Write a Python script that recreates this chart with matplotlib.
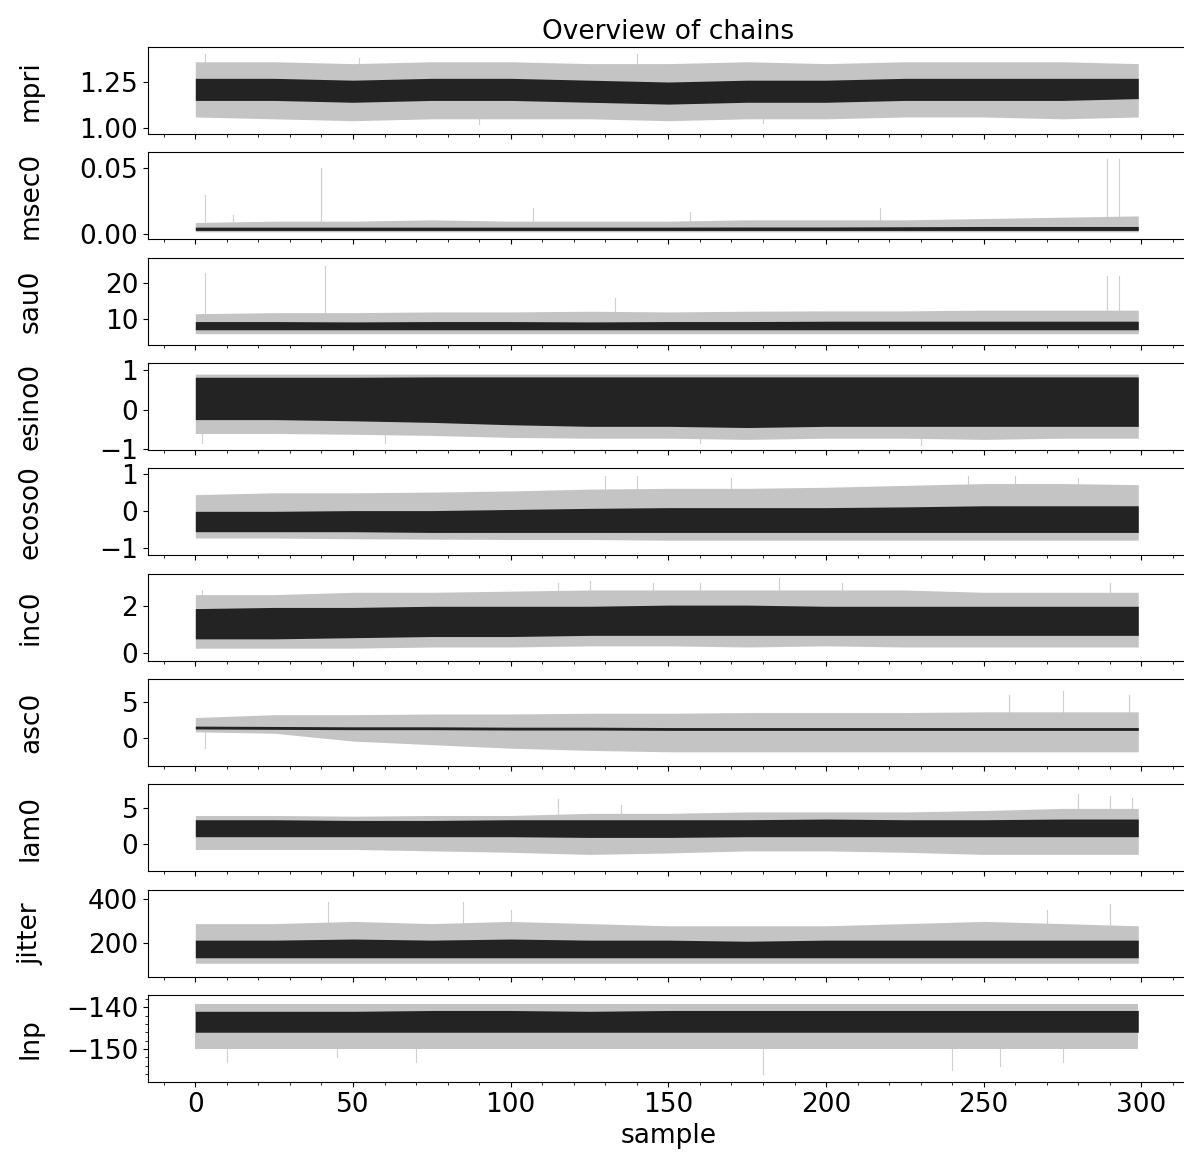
import numpy as np
import matplotlib
matplotlib.use('Agg')
import matplotlib.pyplot as plt
from matplotlib.ticker import MultipleLocator

plt.rcParams["font.family"] = "DejaVu Sans"
plt.rcParams["font.size"] = 19

samples = [0, 25, 50, 75, 100, 125, 150, 175, 200, 225, 250, 275, 299]

names = ['mpri', 'msec0', 'sau0', 'esino0', 'ecoso0', 'inc0', 'asc0', 'lam0', 'jitter', 'lnp']

# dense core of the walkers
mpri_core_lo = [1.15, 1.15, 1.14, 1.15, 1.15, 1.14, 1.13, 1.14, 1.14, 1.15, 1.15, 1.15, 1.16]
mpri_core_hi = [1.27, 1.27, 1.26, 1.27, 1.27, 1.26, 1.25, 1.26, 1.26, 1.27, 1.27, 1.27, 1.27]
msec0_core_lo = [0.003, 0.003, 0.003, 0.003, 0.003, 0.003, 0.003, 0.003, 0.003, 0.003, 0.003, 0.003, 0.003]
msec0_core_hi = [0.0055, 0.0055, 0.0055, 0.0055, 0.0055, 0.0055, 0.0055, 0.0056, 0.0056, 0.0058, 0.006, 0.006, 0.006]
sau0_core_lo = [7.0, 7.0, 7.0, 7.0, 7.0, 7.0, 7.0, 7.0, 7.0, 7.0, 7.0, 7.0, 7.0]
sau0_core_hi = [9.3, 9.3, 9.2, 9.3, 9.3, 9.2, 9.3, 9.3, 9.4, 9.4, 9.4, 9.4, 9.4]
esino0_core_lo = [-0.25, -0.25, -0.28, -0.32, -0.38, -0.42, -0.42, -0.45, -0.42, -0.42, -0.42, -0.42, -0.42]
esino0_core_hi = [0.82, 0.82, 0.82, 0.83, 0.83, 0.83, 0.83, 0.83, 0.83, 0.83, 0.83, 0.83, 0.83]
ecoso0_core_lo = [-0.55, -0.55, -0.55, -0.57, -0.57, -0.57, -0.57, -0.57, -0.57, -0.57, -0.57, -0.57, -0.57]
ecoso0_core_hi = [0.0, 0.0, 0.02, 0.02, 0.05, 0.08, 0.1, 0.1, 0.1, 0.12, 0.15, 0.15, 0.15]
inc0_core_lo = [0.6, 0.6, 0.65, 0.7, 0.7, 0.75, 0.75, 0.75, 0.75, 0.75, 0.75, 0.75, 0.75]
inc0_core_hi = [1.9, 1.95, 1.95, 2.0, 2.0, 2.0, 2.05, 2.05, 2.0, 2.0, 2.0, 2.0, 2.0]
asc0_core_lo = [1.2, 1.15, 1.1, 1.1, 1.05, 1.05, 1.0, 1.0, 1.0, 1.0, 1.0, 1.0, 1.0]
asc0_core_hi = [1.6, 1.55, 1.5, 1.5, 1.45, 1.45, 1.4, 1.4, 1.4, 1.4, 1.4, 1.4, 1.4]
lam0_core_lo = [1.0, 1.0, 1.0, 1.0, 1.0, 0.9, 0.9, 1.0, 1.0, 1.0, 1.0, 1.0, 1.0]
lam0_core_hi = [3.4, 3.4, 3.3, 3.3, 3.4, 3.4, 3.4, 3.4, 3.5, 3.4, 3.4, 3.5, 3.5]
jitter_core_lo = [135, 135, 135, 135, 135, 135, 135, 135, 135, 135, 135, 135, 135]
jitter_core_hi = [215, 215, 220, 215, 220, 215, 215, 210, 215, 215, 215, 215, 215]
lnp_core_lo = [-146.0, -146.0, -146.0, -146.0, -146.0, -146.0, -146.0, -146.0, -146.0, -146.0, -146.0, -146.0, -146.0]
lnp_core_hi = [-141.0, -141.0, -141.0, -140.8, -140.8, -141.0, -140.8, -140.8, -140.8, -140.8, -140.8, -140.8, -140.8]

# thinner outer envelope of the walkers
mpri_out_lo = [1.06, 1.05, 1.04, 1.05, 1.05, 1.05, 1.04, 1.05, 1.05, 1.06, 1.06, 1.05, 1.06]
mpri_out_hi = [1.36, 1.36, 1.35, 1.36, 1.36, 1.35, 1.35, 1.36, 1.35, 1.36, 1.36, 1.36, 1.35]
msec0_out_lo = [0.002, 0.002, 0.002, 0.002, 0.002, 0.002, 0.002, 0.002, 0.002, 0.002, 0.002, 0.002, 0.002]
msec0_out_hi = [0.009, 0.010, 0.010, 0.011, 0.010, 0.010, 0.010, 0.011, 0.011, 0.011, 0.012, 0.013, 0.014]
sau0_out_lo = [5.9, 5.9, 5.9, 5.9, 5.9, 5.9, 5.9, 5.9, 5.9, 5.9, 5.9, 5.9, 5.9]
sau0_out_hi = [11.5, 11.8, 11.8, 12.0, 12.0, 12.2, 12.0, 12.2, 12.3, 12.3, 12.5, 12.5, 12.5]
esino0_out_lo = [-0.6, -0.6, -0.62, -0.65, -0.7, -0.72, -0.72, -0.75, -0.72, -0.72, -0.75, -0.72, -0.72]
esino0_out_hi = [0.9, 0.9, 0.9, 0.9, 0.9, 0.9, 0.9, 0.9, 0.9, 0.9, 0.9, 0.9, 0.9]
ecoso0_out_lo = [-0.72, -0.72, -0.74, -0.75, -0.76, -0.76, -0.78, -0.78, -0.78, -0.78, -0.78, -0.78, -0.78]
ecoso0_out_hi = [0.45, 0.5, 0.5, 0.52, 0.55, 0.6, 0.62, 0.62, 0.65, 0.7, 0.75, 0.75, 0.72]
inc0_out_lo = [0.2, 0.2, 0.2, 0.25, 0.25, 0.3, 0.3, 0.25, 0.3, 0.25, 0.25, 0.25, 0.25]
inc0_out_hi = [2.5, 2.5, 2.6, 2.6, 2.65, 2.7, 2.7, 2.7, 2.7, 2.7, 2.6, 2.6, 2.6]
asc0_out_lo = [0.8, 0.6, -0.5, -1.0, -1.5, -1.8, -2.0, -2.0, -2.0, -2.0, -2.0, -2.0, -2.0]
asc0_out_hi = [2.8, 3.2, 3.2, 3.3, 3.3, 3.4, 3.4, 3.5, 3.5, 3.5, 3.6, 3.6, 3.6]
lam0_out_lo = [-0.8, -0.8, -0.8, -1.0, -1.2, -1.5, -1.3, -1.0, -1.0, -1.2, -1.5, -1.5, -1.5]
lam0_out_hi = [4.0, 4.0, 3.9, 4.0, 4.0, 4.3, 4.3, 4.5, 4.5, 4.5, 4.7, 5.0, 5.0]
jitter_out_lo = [110, 110, 110, 110, 110, 110, 110, 110, 110, 110, 110, 110, 110]
jitter_out_hi = [290, 290, 300, 290, 300, 290, 280, 280, 280, 290, 300, 290, 280]
lnp_out_lo = [-150.0, -150.0, -150.0, -150.0, -150.0, -150.0, -150.0, -150.0, -150.0, -150.0, -150.0, -150.0, -150.0]
lnp_out_hi = [-139.3, -139.3, -139.3, -139.3, -139.3, -139.3, -139.3, -139.3, -139.3, -139.3, -139.3, -139.3, -139.3]

# single walkers that shoot far out of the band (sample, value)
mpri_spikes = [(3, 1.40), (52, 1.38), (90, 1.02), (140, 1.40), (180, 1.03)]
msec0_spikes = [(3, 0.030), (12, 0.015), (40, 0.050), (107, 0.020), (157, 0.017), (217, 0.020), (289, 0.057), (293, 0.057)]
sau0_spikes = [(3, 23), (41, 25), (133, 16), (289, 22), (293, 22)]
esino0_spikes = [(2, -0.85), (60, -0.85), (160, -0.85), (230, -0.9)]
ecoso0_spikes = [(130, 0.95), (140, 0.95), (170, 0.9), (245, 0.95), (260, 0.95), (280, 0.9)]
inc0_spikes = [(2, 2.7), (115, 3.0), (125, 3.1), (145, 3.0), (160, 3.0), (185, 3.2), (205, 3.0), (290, 3.0)]
asc0_spikes = [(3, -1.5), (258, 6.0), (275, 6.5), (296, 6.0)]
lam0_spikes = [(115, 6.3), (135, 5.5), (280, 7.0), (290, 6.8), (297, 6.5)]
jitter_spikes = [(42, 390), (85, 390), (100, 350), (270, 350), (290, 380)]
lnp_spikes = [(10, -153), (45, -152), (70, -153), (180, -156), (240, -155), (255, -154), (275, -153)]

core_lo = [mpri_core_lo, msec0_core_lo, sau0_core_lo, esino0_core_lo, ecoso0_core_lo,
           inc0_core_lo, asc0_core_lo, lam0_core_lo, jitter_core_lo, lnp_core_lo]
core_hi = [mpri_core_hi, msec0_core_hi, sau0_core_hi, esino0_core_hi, ecoso0_core_hi,
           inc0_core_hi, asc0_core_hi, lam0_core_hi, jitter_core_hi, lnp_core_hi]
out_lo = [mpri_out_lo, msec0_out_lo, sau0_out_lo, esino0_out_lo, ecoso0_out_lo,
          inc0_out_lo, asc0_out_lo, lam0_out_lo, jitter_out_lo, lnp_out_lo]
out_hi = [mpri_out_hi, msec0_out_hi, sau0_out_hi, esino0_out_hi, ecoso0_out_hi,
          inc0_out_hi, asc0_out_hi, lam0_out_hi, jitter_out_hi, lnp_out_hi]
spikes = [mpri_spikes, msec0_spikes, sau0_spikes, esino0_spikes, ecoso0_spikes,
          inc0_spikes, asc0_spikes, lam0_spikes, jitter_spikes, lnp_spikes]

yticks = [[1.00, 1.25], [0.00, 0.05], [10, 20], [-1, 0, 1], [-1, 0, 1],
          [0, 2], [0, 5], [0, 5], [200, 400], [-150, -140]]
ylims = [(0.967, 1.44), (-0.0038, 0.062), (2.8, 27.2), (-1.02, 1.18), (-1.19, 1.16),
         (-0.34, 3.4), (-4.0, 8.2), (-3.9, 8.4), (49, 444), (-157.9, -137.1)]

fig, axs = plt.subplots(10, 1, sharex=True, figsize=(11.84, 11.59), dpi=100)
fig.subplots_adjust(left=0.125, right=1.004, top=0.9594, bottom=0.0664, hspace=0.21)

x = np.array(samples)
for i in range(10):
    ax = axs[i]
    # spikes first, underneath the bands
    for s, v in spikes[i]:
        base = np.interp(s, x, (np.array(core_lo[i]) + np.array(core_hi[i])) / 2.)
        ax.plot([s, s], [base, v], color='#cfcfcf', lw=0.8, zorder=0.5)
    ax.fill_between(x, out_lo[i], out_hi[i], color='#c4c4c4', lw=0, zorder=1)
    ax.fill_between(x, core_lo[i], core_hi[i], color='#232323', lw=0, zorder=1.5)
    ax.set_ylim(ylims[i])
    ax.set_yticks(yticks[i])
    ax.set_ylabel(names[i])
    ax.yaxis.set_label_coords(-0.1, 0.5)
    ax.xaxis.set_major_locator(MultipleLocator(50))
    ax.xaxis.set_minor_locator(MultipleLocator(10))

axs[-1].yaxis.set_minor_locator(MultipleLocator(2))
axs[-1].set_xlim(-15, 315)
axs[-1].set_xlabel('sample')
axs[0].set_title('Overview of chains', fontsize=19)

fig.savefig('out.png')
